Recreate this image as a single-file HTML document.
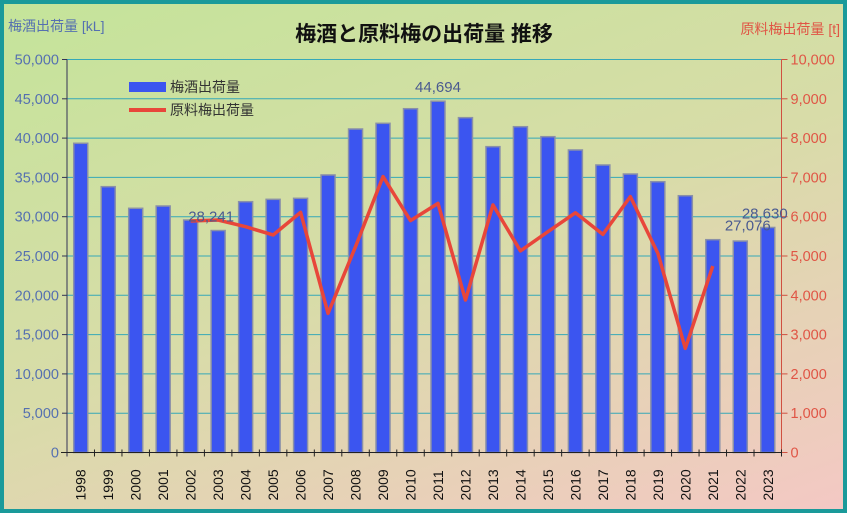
<!DOCTYPE html>
<html><head><meta charset="utf-8"><style>
body{margin:0;width:847px;height:513px;overflow:hidden}
#wrap{position:absolute;left:0;top:0;width:839px;height:505px;border:4px solid #1a9a9a;background:linear-gradient(160deg,#c4e49a 0%,#d8dca8 50%,#f4c8c4 100%)}
svg{position:absolute;left:0;top:0}
text{font-family:"Liberation Sans","Noto Sans CJK JP",sans-serif}
</style></head><body>
<div id="wrap"></div>
<svg id="c" width="847" height="513">
<text x="424" y="41" text-anchor="middle" font-size="21" font-weight="bold" fill="#111">梅酒と原料梅の出荷量 推移</text>
<text x="8" y="31" font-size="14" fill="#5570b0">梅酒出荷量 [kL]</text>
<text x="840" y="34" text-anchor="end" font-size="14" fill="#e05545">原料梅出荷量 [t]</text>
<g id="grid"></g><g id="bars"></g><g id="axes"></g><g id="line"></g><g id="labels"></g>
<g>
<rect x="129" y="82" width="37" height="10" fill="#3b55f0"/>
<text x="170" y="92" font-size="14" fill="#333">梅酒出荷量</text>
<rect x="129" y="108" width="37" height="4" fill="#e8463a"/>
<text x="170" y="115" font-size="14" fill="#333">原料梅出荷量</text>
</g>
</svg>
<script>
const years=["1998","1999","2000","2001","2002","2003","2004","2005","2006","2007","2008","2009","2010","2011","2012","2013","2014","2015","2016","2017","2018","2019","2020","2021","2022","2023"];
const umeshu=[39340,33820,31070,31360,29580,28241,31910,32210,32340,35310,41160,41880,43740,44694,42600,38910,41450,40180,38490,36580,35430,34450,32670,27076,26900,28630];
const ume=[null,null,null,null,5890,5915,5745,5535,6110,3540,5240,7020,5900,6340,3880,6300,5130,5620,6100,5550,6510,5070,2650,4745,null,null];
const leftTicks=[0,5000,10000,15000,20000,25000,30000,35000,40000,45000,50000];
const rightTicks=[0,1000,2000,3000,4000,5000,6000,7000,8000,9000,10000];
const labeled={"2003":"28,241","2011":"44,694","2021":"27,076","2023":"28,630"};
const labelDx={"2003":-7,"2011":0,"2021":35,"2023":-3};
const NS="http://www.w3.org/2000/svg";
const X0=67,X1=781.5,Y0=452.5,Y1=59.5,bw=(X1-X0)/years.length;
const yL=v=>Y0-(v/50000)*(Y0-Y1), yR=v=>Y0-(v/10000)*(Y0-Y1), xc=i=>X0+bw*(i+0.5);
function mk(t,a,p){const e=document.createElementNS(NS,t);for(const k in a)e.setAttribute(k,a[k]);p.appendChild(e);return e;}
const G=document.getElementById('grid'),B=document.getElementById('bars'),A=document.getElementById('axes'),L=document.getElementById('line'),T=document.getElementById('labels');
leftTicks.forEach((v,i)=>{const y=yL(v);
 if(v>0){const g=mk('line',{x1:X0,x2:X1,y1:y,y2:y,stroke:'#35a8b8','stroke-width':1},G);}
 const t=mk('text',{x:X0-8,y:y+5,'text-anchor':'end','font-size':14.5,fill:'#5570b0'},A);t.textContent=v.toLocaleString('en-US');
 
 mk('line',{x1:X0-5,x2:X0,y1:y,y2:y,stroke:'#335'},A);});
rightTicks.forEach(v=>{const y=yR(v);
 const t=mk('text',{x:X1+9,y:y+5,'font-size':14.5,fill:'#e05545'},A);t.textContent=v.toLocaleString('en-US');
 
 mk('line',{x1:X1,x2:X1+6,y1:y,y2:y,stroke:'#d05040'},A);});
mk('line',{x1:X0,x2:X0,y1:Y1,y2:Y0+4,stroke:'#335'},A);
mk('line',{x1:X1,x2:X1,y1:Y1,y2:Y0,stroke:'#d05040'},A);
mk('line',{x1:X0-6,x2:X1,y1:Y0,y2:Y0,stroke:'#222'},A);
years.forEach((yr,i)=>{const x=xc(i),y=yL(umeshu[i]);
 const r=mk('rect',{x:x-7,y:y,width:14,height:Y0-y,fill:'#3b55f0',stroke:'#8a90a8','stroke-width':1.5},B);
 
 mk('line',{x1:X0+bw*(i+1),x2:X0+bw*(i+1),y1:Y0-3,y2:Y0+4,stroke:'#222'},A);
 const t=mk('text',{transform:`translate(${x+5},${Y0+48}) rotate(-90)`,'font-size':14,fill:'#111'},A);t.textContent=yr;
 
 if(labeled[yr]){const l=mk('text',{x:x+labelDx[yr],y:y-9,'text-anchor':'middle','font-size':15,fill:'#4a5a90'},T);l.textContent=labeled[yr];
  }
});
let d='';ume.forEach((v,i)=>{if(v==null)return;d+=(d?'L':'M')+xc(i)+','+yR(v);});
const p=mk('path',{d:d,fill:'none',stroke:'#e8463a','stroke-width':3.5,'stroke-linejoin':'round'},L);

</script>
</body></html>
